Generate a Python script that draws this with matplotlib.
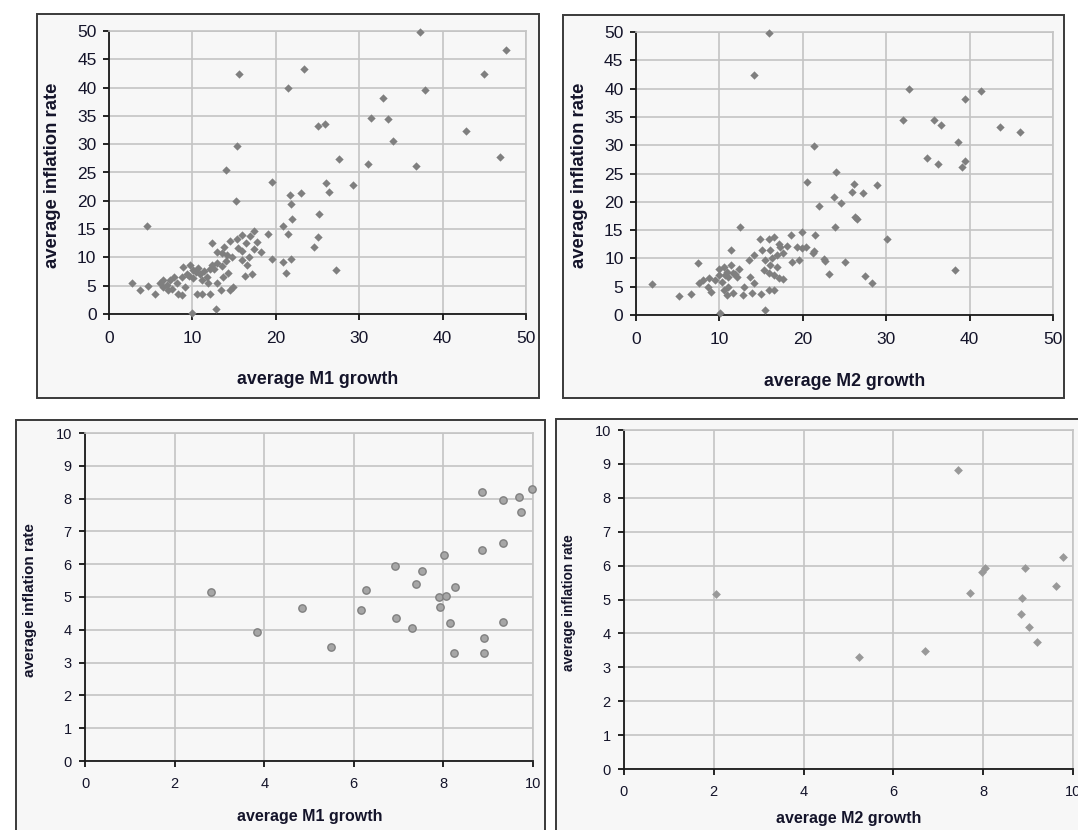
import matplotlib
matplotlib.use("Agg")
import matplotlib.pyplot as plt
from matplotlib.patches import Rectangle

plt.rcParams['font.family'] = ['Liberation Sans', 'DejaVu Sans']

# --- data ---
# top left: average M1 growth vs average inflation rate (all countries)
m1_all_x = [37.3, 47.6, 23.4, 15.6, 45.0, 21.5, 37.9, 32.9, 31.4, 33.4, 25.0, 25.9, 42.8, 34.0,
            15.4, 27.6, 31.0, 36.8, 46.9, 14.0, 19.6, 26.0, 26.4, 29.2, 23.0, 21.7, 21.8, 15.2,
            21.9, 25.2, 20.9, 21.5, 4.5, 25.0, 24.6, 19.1, 27.2, 21.2, 20.9, 21.8, 19.5, 18.2,
            17.8, 17.4, 16.9, 15.9, 16.4, 15.3, 14.5, 12.4, 13.8, 12.9, 13.5, 14.1, 14.7, 15.5,
            15.9, 17.4, 16.5, 15.9, 16.3, 17.2, 14.9, 14.5, 13.4, 13.0, 13.7, 14.3, 13.6, 12.9,
            12.4, 12.1, 11.7, 11.9, 12.1, 11.2, 10.6, 9.9, 12.8, 10.7, 10.1, 9.7, 9.3, 10.1,
            10.9, 11.1, 8.9, 8.7, 9.1, 8.3, 8.8, 8.1, 7.8, 7.3, 6.9, 7.1, 6.5, 6.1, 5.5, 4.7,
            3.7, 2.7, 7.5, 6.5, 10.4, 9.6, 11.4, 12.6, 14.0, 16.8]
m1_all_y = [49.9, 46.7, 43.3, 42.4, 42.4, 39.9, 39.5, 38.1, 34.7, 34.4, 33.3, 33.5, 32.3, 30.5,
            29.7, 27.4, 26.5, 26.2, 27.7, 25.4, 23.3, 23.1, 21.6, 22.8, 21.3, 21.1, 19.4, 19.9,
            16.7, 17.6, 15.5, 14.1, 15.6, 13.6, 11.8, 14.1, 7.8, 7.2, 9.2, 9.8, 9.8, 11.0,
            12.7, 14.6, 13.7, 14.0, 12.5, 13.3, 12.9, 12.5, 11.8, 11.0, 10.7, 10.5, 10.0, 11.6,
            11.2, 11.4, 8.6, 9.5, 6.8, 7.0, 4.8, 4.2, 4.3, 5.4, 6.6, 7.2, 8.4, 9.0,
            8.7, 7.9, 6.6, 5.4, 3.5, 3.5, 3.6, 0.2, 0.9, 8.2, 7.7, 8.6, 7.1, 6.3,
            7.1, 6.0, 8.3, 6.5, 4.8, 3.6, 3.3, 5.4, 6.5, 6.0, 5.1, 4.2, 4.8, 5.4, 3.6, 4.9,
            4.3, 5.4, 4.5, 6.0, 7.4, 6.8, 7.6, 8.0, 9.4, 10.1]

# top right: average M2 growth vs average inflation rate (all countries)
m2_all_x = [16.0, 14.2, 32.7, 41.4, 39.4, 32.0, 35.7, 36.6, 43.7, 46.0, 38.6, 21.3, 34.9, 36.2,
            39.4, 39.1, 24.0, 20.5, 26.1, 28.9, 25.9, 27.2, 23.7, 24.6, 21.9, 26.2, 26.5, 23.9,
            12.5, 30.1, 38.2, 27.4, 28.3, 23.2, 25.0, 22.5, 22.7, 21.3, 21.5, 19.9, 18.6, 18.1,
            19.3, 19.9, 19.5, 18.7, 17.6, 17.3, 17.1, 16.5, 15.9, 14.9, 15.1, 16.1, 16.9, 16.3,
            15.5, 16.1, 16.9, 16.5, 17.1, 17.6, 15.3, 15.9, 14.1, 13.5, 13.7, 14.1, 13.9, 12.8,
            13.0, 12.4, 11.6, 11.4, 11.4, 11.0, 10.9, 10.5, 10.0, 9.9, 10.3, 10.5, 10.9, 11.0,
            11.6, 12.1, 9.5, 8.8, 8.6, 9.0, 8.0, 7.6, 7.4, 6.6, 5.2, 1.9, 10.1, 15.5,
            15.0, 15.9, 16.5, 20.4, 21.2, 10.7, 11.9]
m2_all_y = [49.9, 42.4, 39.9, 39.6, 38.1, 34.4, 34.4, 33.5, 33.2, 32.4, 30.6, 29.8, 27.8, 26.6,
            27.2, 26.1, 25.2, 23.5, 23.2, 22.9, 21.8, 21.5, 20.9, 19.8, 19.2, 17.4, 16.9, 15.5,
            15.5, 13.5, 8.0, 6.9, 5.7, 7.2, 9.4, 9.9, 9.6, 11.3, 14.1, 14.7, 14.1, 12.2,
            12.1, 11.8, 9.7, 9.4, 10.9, 12.1, 12.6, 13.8, 13.5, 13.5, 11.5, 11.5, 10.6, 10.0,
            9.7, 8.8, 8.5, 7.1, 6.5, 6.3, 7.9, 7.5, 10.6, 9.7, 6.8, 5.6, 3.8, 3.5,
            5.0, 8.2, 7.4, 8.8, 11.5, 6.8, 7.6, 8.5, 8.1, 7.1, 5.9, 4.4, 3.5, 5.0,
            3.8, 6.8, 6.2, 6.5, 5.0, 4.1, 6.2, 5.6, 9.1, 3.7, 3.4, 5.4, 0.3, 0.9,
            3.7, 4.4, 4.5, 12.0, 11.0, 7.0, 7.3]

# bottom left: low-inflation countries, M1
m1_low_x = [2.81, 3.84, 4.85, 5.50, 6.16, 6.27, 6.93, 6.95, 7.31, 7.38, 7.52, 7.90, 7.92, 8.06,
            8.01, 8.14, 8.26, 8.23, 8.86, 8.86, 8.91, 8.91, 9.32, 9.32, 9.32, 9.69, 9.73, 9.97]
m1_low_y = [5.14, 3.92, 4.65, 3.48, 4.59, 5.22, 5.94, 4.37, 4.06, 5.40, 5.80, 4.99, 4.69, 5.02,
            6.28, 4.20, 5.31, 3.30, 8.20, 6.43, 3.75, 3.30, 7.95, 6.66, 4.23, 8.05, 7.60, 8.29]

# bottom right: low-inflation countries, M2
m2_low_x = [2.06, 5.24, 6.71, 7.43, 7.70, 7.97, 8.04, 8.86, 8.84, 8.93, 9.03, 9.19, 9.63, 9.77]
m2_low_y = [5.15, 3.30, 3.47, 8.82, 5.19, 5.81, 5.92, 5.03, 4.57, 5.94, 4.20, 3.74, 5.41, 6.24]

W, H = 1078, 830
fig = plt.figure(figsize=(W / 100, H / 100), dpi=100)
fig.patch.set_facecolor('white')

panel_bg = '#f7f7f7'
grid_c = '#c4c4c4'
txt_c = '#14142a'


def px_rect(x0, y0, x1, y1):
    return [x0 / W, 1 - y1 / H, (x1 - x0) / W, (y1 - y0) / H]


def panel_box(x0, y0, x1, y1):
    r = Rectangle((x0 / W, 1 - y1 / H), (x1 - x0) / W, (y1 - y0) / H,
                  transform=fig.transFigure, facecolor=panel_bg,
                  edgecolor='#3a3a3a', linewidth=1.4, zorder=-10)
    fig.patches.append(r)


def setup_axes(rect, xmax, ymax, xstep, ystep, fs, xpad, ypad):
    ax = fig.add_axes(px_rect(*rect))
    ax.set_facecolor(panel_bg)
    ax.set_xlim(0, xmax)
    ax.set_ylim(0, ymax)
    ax.set_xticks(range(0, xmax + 1, xstep))
    ax.set_yticks(range(0, ymax + 1, ystep))
    ax.grid(True, color=grid_c, linewidth=1.2, zorder=1)
    ax.set_axisbelow(True)
    for s in ['top', 'right']:
        ax.spines[s].set_color(grid_c)
        ax.spines[s].set_linewidth(1.2)
    for s in ['left', 'bottom']:
        ax.spines[s].set_color('#1a1a1a')
        ax.spines[s].set_linewidth(1.3)
    ax.tick_params(axis='x', direction='out', length=4, width=1.2, pad=xpad,
                   labelsize=fs, labelcolor=txt_c)
    ax.tick_params(axis='y', direction='out', length=4, width=1.2, pad=ypad,
                   labelsize=fs, labelcolor=txt_c)
    return ax


# panel frames
panel_box(37, 14, 539, 398)
panel_box(563, 15, 1064, 398)
panel_box(16, 420, 545, 845)
panel_box(556, 419, 1095, 845)

# top left
ax1 = setup_axes((109, 31, 526, 314), 50, 50, 10, 5, 12.5, 8.5, 5)
ax1.scatter(m1_all_x, m1_all_y, marker='D', s=18, color='#7f7f7f', linewidths=0, zorder=3,
            clip_on=False)
fig.text(318 / W, 1 - 380 / H, 'average M1 growth', ha='center', va='center',
         fontsize=12.8, fontweight='bold', color=txt_c)
fig.text(53 / W, 1 - 175 / H, 'average inflation rate', ha='center', va='center',
         rotation=90, fontsize=13.3, fontweight='bold', color=txt_c)

# top right
ax2 = setup_axes((636, 32, 1053, 315), 50, 50, 10, 5, 12.5, 8.5, 5)
ax2.scatter(m2_all_x, m2_all_y, marker='D', s=18, color='#7f7f7f', linewidths=0, zorder=3,
            clip_on=False)
fig.text(845 / W, 1 - 381 / H, 'average M2 growth', ha='center', va='center',
         fontsize=12.8, fontweight='bold', color=txt_c)
fig.text(580 / W, 1 - 175 / H, 'average inflation rate', ha='center', va='center',
         rotation=90, fontsize=13.3, fontweight='bold', color=txt_c)

# bottom left
ax3 = setup_axes((85, 433, 533, 761), 10, 10, 2, 1, 10.5, 7.5, 5.5)
ax3.scatter(m1_low_x, m1_low_y, marker='o', s=28, facecolor='#a6a6a6', edgecolor='#808080',
            linewidths=1.0, zorder=3, clip_on=False)
fig.text(310 / W, 1 - 816 / H, 'average M1 growth', ha='center', va='center',
         fontsize=11.5, fontweight='bold', color=txt_c)
fig.text(30 / W, 1 - 600 / H, 'average inflation rate', ha='center', va='center',
         rotation=90, fontsize=11, fontweight='bold', color=txt_c)

# bottom right
ax4 = setup_axes((624, 430, 1073, 769), 10, 10, 2, 1, 10.5, 7.5, 5.5)
ax4.scatter(m2_low_x, m2_low_y, marker='D', s=20, color='#999999', linewidths=0, zorder=3,
            clip_on=False)
fig.text(849 / W, 1 - 818 / H, 'average M2 growth', ha='center', va='center',
         fontsize=11.5, fontweight='bold', color=txt_c)
fig.text(569 / W, 1 - 603 / H, 'average inflation rate', ha='center', va='center',
         rotation=90, fontsize=9.8, fontweight='bold', color=txt_c)

fig.savefig('out.png', dpi=100)
